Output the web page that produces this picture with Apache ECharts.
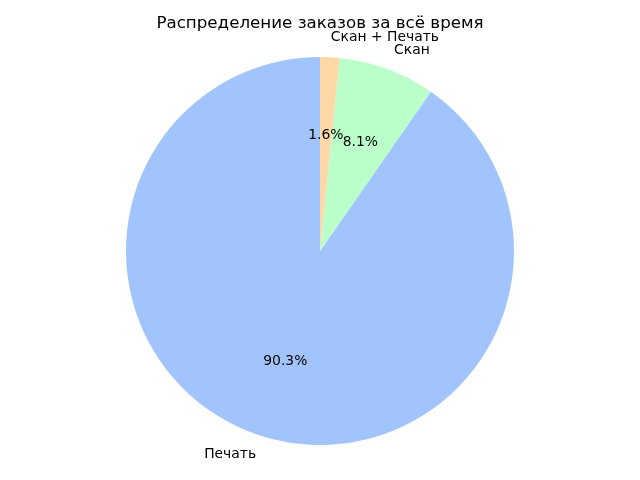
<!DOCTYPE html>
<html>
<head>
<meta charset="utf-8">
<script src="https://cdn.jsdelivr.net/npm/echarts@6/dist/echarts.min.js"></script>
<style>html,body{margin:0;padding:0;background:#fff}#c{width:640px;height:480px}</style>
</head>
<body>
<div id="c"></div>
<script>
const titleText = 'Распределение заказов за всё время';
const categories = ['Печать', 'Скан', 'Скан + Печать'];
const values = [56, 5, 1];
const colors = ['#a1c4fd', '#baffc9', '#ffd8a8'];

const R = 194;
const font = 'DejaVu Sans';
const data = categories.map((c, i) => ({ name: c, value: values[i], itemStyle: { color: colors[i] } }));
const dataT = categories.map((c, i) => ({ name: c, value: values[i] }));

const chart = echarts.init(document.getElementById('c'), null, { renderer: 'canvas' });
chart.setOption({
  animation: false,
  title: {
    text: titleText, left: 'center', top: 15, padding: 0,
    textStyle: { fontFamily: font, fontSize: 16.7, fontWeight: 'normal', color: '#000' }
  },
  series: [
    {
      type: 'pie', center: [320, 251], radius: [0, R], startAngle: 90, clockwise: false,
      avoidLabelOverlap: false, silent: true, percentPrecision: 1,
      labelLayout: { hideOverlap: false },
      label: {
        show: true, position: 'outside', formatter: '{b}', distanceToLabelLine: 0,
        fontFamily: font, fontSize: 13.9, color: '#000'
      },
      labelLine: { show: false, length: R * 0.1, length2: 0 },
      data: data
    },
    {
      type: 'pie', center: [320, 251], radius: [0, R * 1.165], startAngle: 90, clockwise: false,
      avoidLabelOverlap: false, silent: true, percentPrecision: 1, z: 5,
      labelLayout: { hideOverlap: false },
      itemStyle: { color: 'rgba(0,0,0,0)', borderWidth: 0 },
      label: {
        show: true, position: 'inside', formatter: '{d}%',
        fontFamily: font, fontSize: 13.9, color: '#000'
      },
      labelLine: { show: false },
      data: dataT
    }
  ]
});
</script>
</body>
</html>
